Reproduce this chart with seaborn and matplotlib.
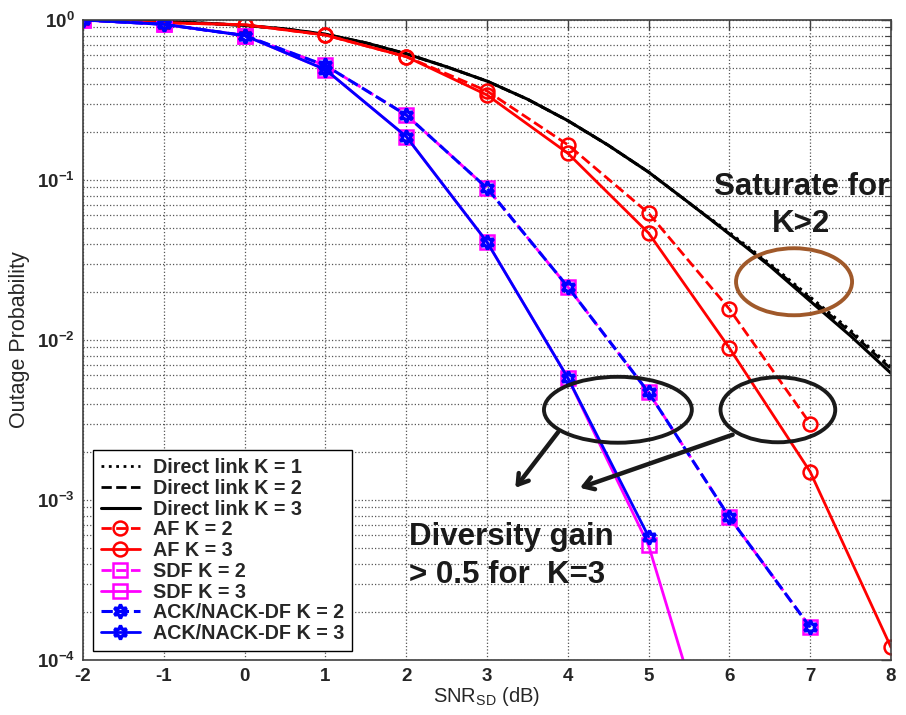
import matplotlib

matplotlib.use("Agg")
import matplotlib.pyplot as plt
import pandas as pd
import seaborn as sns
from matplotlib.patches import Ellipse
from matplotlib.ticker import FixedLocator, LogLocator, NullFormatter

# ---- data ----
snr_direct = [-2, -1.5, -1, -0.5, 0, 0.5, 1, 1.5, 2, 2.5, 3, 3.5, 4, 4.5, 5, 5.5, 6, 6.5, 7, 7.5, 8]
direct_k1 = [1.0, 0.99, 0.975, 0.955, 0.925, 0.88, 0.815, 0.72, 0.615, 0.51, 0.415, 0.32, 0.235,
             0.165, 0.112, 0.072, 0.047, 0.030, 0.0186, 0.0115, 0.0068]
direct_k2 = [1.0, 0.99, 0.975, 0.955, 0.925, 0.88, 0.815, 0.72, 0.615, 0.51, 0.415, 0.32, 0.235,
             0.165, 0.112, 0.072, 0.046, 0.0295, 0.0182, 0.0112, 0.0066]
direct_k3 = [1.0, 0.99, 0.975, 0.955, 0.925, 0.88, 0.815, 0.72, 0.615, 0.51, 0.415, 0.32, 0.235,
             0.165, 0.112, 0.072, 0.046, 0.029, 0.0175, 0.0106, 0.0062]

snr_af2 = [-2, -1, 0, 1, 2, 3, 4, 5, 6, 7]
af_k2 = [1.0, 0.96, 0.935, 0.805, 0.59, 0.36, 0.166, 0.062, 0.0156, 0.0030]
snr_af3 = [-2, -1, 0, 1, 2, 3, 4, 5, 6, 7, 8]
af_k3 = [1.0, 0.96, 0.935, 0.805, 0.59, 0.34, 0.147, 0.0466, 0.0089, 0.0015, 1.2e-4]

snr_k2 = [-2, -1, 0, 1, 2, 3, 4, 5, 6, 7]
sdf_k2 = [1.0, 0.94, 0.80, 0.52, 0.255, 0.089, 0.0215, 0.0047, 7.8e-4, 1.6e-4]
ack_k2 = [1.0, 0.94, 0.80, 0.52, 0.255, 0.089, 0.0215, 0.0047, 7.8e-4, 1.6e-4]
snr_sdf3 = [-2, -1, 0, 1, 2, 3, 4, 5, 6]
sdf_k3 = [1.0, 0.94, 0.80, 0.49, 0.187, 0.041, 0.0058, 5.2e-4, 1.1e-5]
snr_ack3 = [-2, -1, 0, 1, 2, 3, 4, 5]
ack_k3 = [1.0, 0.94, 0.80, 0.49, 0.187, 0.041, 0.0058, 5.9e-4]

labels = [
    "Direct link K = 1", "Direct link K = 2", "Direct link K = 3",
    "AF K = 2", "AF K = 3", "SDF K = 2", "SDF K = 3",
    "ACK/NACK-DF K = 2", "ACK/NACK-DF K = 3",
]
x_ticks = [-2, -1, 0, 1, 2, 3, 4, 5, 6, 7, 8]
y_ticks = [1e-4, 1e-3, 1e-2, 1e-1, 1e0]
y_tick_labels = [r"$\mathregular{10^{-4}}$", r"$\mathregular{10^{-3}}$", r"$\mathregular{10^{-2}}$",
                 r"$\mathregular{10^{-1}}$", r"$\mathregular{10^{0}}$"]


def main() -> None:
    sns.set_style("white")
    plt.rcParams["font.family"] = ["Liberation Sans", "DejaVu Sans"]
    plt.rcParams["mathtext.default"] = "regular"
    plt.rcParams["axes.unicode_minus"] = False

    fig = plt.figure(figsize=(9.06, 7.15), dpi=100)
    ax = fig.add_axes([83 / 906, 55 / 715, 808 / 906, 640 / 715])

    series = [
        (snr_direct, direct_k1, dict(color="black", linestyle=":", lw=2.0)),
        (snr_direct, direct_k2, dict(color="black", linestyle="--", lw=2.0)),
        (snr_direct, direct_k3, dict(color="black", linestyle="-", lw=2.2)),
        (snr_af2, af_k2, dict(color="#ff0000", linestyle="--", lw=2.0, marker="o", ms=10,
                              mfc="none", mec="#ff0000", mew=1.8)),
        (snr_af3, af_k3, dict(color="#ff0000", linestyle="-", lw=2.0, marker="o", ms=10,
                              mfc="none", mec="#ff0000", mew=1.8)),
        (snr_k2, sdf_k2, dict(color="#ff00ff", linestyle="--", lw=2.0, marker="s", ms=10,
                              mfc="none", mec="#ff00ff", mew=1.8)),
        (snr_sdf3, sdf_k3, dict(color="#ff00ff", linestyle="-", lw=2.0, marker="s", ms=10,
                                mfc="none", mec="#ff00ff", mew=1.8)),
        (snr_k2, ack_k2, dict(color="#0000ff", linestyle="--", lw=2.2, marker=(6, 1, 0), ms=10,
                              mfc="none", mec="#0000ff", mew=2.4)),
        (snr_ack3, ack_k3, dict(color="#0000ff", linestyle="-", lw=2.0, marker=(6, 1, 0), ms=10,
                                mfc="none", mec="#0000ff", mew=2.4)),
    ]
    for (xs, ys, style), label in zip(series, labels):
        df = pd.DataFrame({"snr": xs, "p": ys})
        sns.lineplot(data=df, x="snr", y="p", errorbar=None, ax=ax, label=label, legend=False, **style)

    ax.set_yscale("log")
    ax.set_xlim(-2, 8)
    ax.set_ylim(1e-4, 1)
    ax.xaxis.set_major_locator(FixedLocator(x_ticks))
    ax.set_xticklabels([str(t) for t in x_ticks], fontsize=13.5, fontweight="bold")
    ax.yaxis.set_major_locator(FixedLocator(y_ticks))
    ax.yaxis.set_minor_locator(LogLocator(base=10, subs=range(2, 10), numticks=20))
    ax.yaxis.set_minor_formatter(NullFormatter())
    ax.set_yticklabels(y_tick_labels, fontsize=13.5, fontweight="bold")

    ax.grid(True, which="major", axis="both", linestyle=":", color="#555555", lw=0.9)
    ax.grid(True, which="minor", axis="y", linestyle=":", color="#555555", lw=0.9)
    ax.tick_params(which="both", direction="in", top=True, right=True, color="#404040")
    ax.tick_params(which="major", length=7, width=1, pad=6)
    ax.tick_params(which="minor", length=4, width=0.8)
    for spine in ax.spines.values():
        spine.set_color("#404040")
        spine.set_linewidth(1.2)

    ax.set_xlabel(r"SNR$_{SD}$ (dB)", fontsize=14.5, labelpad=0)
    ax.set_ylabel("Outage Probability", fontsize=15.5, labelpad=5)

    leg = ax.legend(ax.lines[:9], labels, loc="lower left", bbox_to_anchor=(0.012, 0.014),
                    borderaxespad=0, fancybox=False, framealpha=1, edgecolor="black",
                    prop={"size": 14.2, "weight": "bold"}, handlelength=2.0,
                    handletextpad=0.65, labelspacing=0.09, borderpad=0.4)
    leg.get_frame().set_linewidth(1.0)

    # annotations
    ax.add_patch(Ellipse((0.880, 0.591), 0.1436, 0.1047, transform=ax.transAxes,
                         fill=False, edgecolor="#a0592a", lw=2.8, zorder=5))
    ax.add_patch(Ellipse((0.662, 0.391), 0.183, 0.103, transform=ax.transAxes,
                         fill=False, edgecolor="#1a1a1a", lw=2.8, zorder=5))
    ax.add_patch(Ellipse((0.860, 0.391), 0.142, 0.1016, transform=ax.transAxes,
                         fill=False, edgecolor="#1a1a1a", lw=2.8, zorder=5))
    arrow = dict(arrowstyle="->,head_length=0.7,head_width=0.45", lw=3.2, color="#1a1a1a",
                 shrinkA=0, shrinkB=0)
    ax.annotate("", xy=(0.535, 0.269), xytext=(0.588, 0.356), xycoords="axes fraction",
                arrowprops=arrow, zorder=5)
    ax.annotate("", xy=(0.615, 0.269), xytext=(0.804, 0.352), xycoords="axes fraction",
                arrowprops=arrow, zorder=5)

    ax.text(0.889, 0.727, "Saturate for", transform=ax.transAxes, ha="center", va="baseline",
            fontsize=22.5, fontweight="bold", color="#1a1a1a", zorder=6)
    ax.text(0.889, 0.669, "K>2", transform=ax.transAxes, ha="center", va="baseline",
            fontsize=22.5, fontweight="bold", color="#1a1a1a", zorder=6)
    ax.text(0.404, 0.1797, "Diversity gain", transform=ax.transAxes, ha="left", va="baseline",
            fontsize=22.5, fontweight="bold", color="#1a1a1a", zorder=6)
    ax.text(0.404, 0.1203, "> 0.5 for  K=3", transform=ax.transAxes, ha="left", va="baseline",
            fontsize=22.5, fontweight="bold", color="#1a1a1a", zorder=6)

    fig.savefig("out.png", dpi=100)
    plt.close(fig)


if __name__ == "__main__":
    main()
